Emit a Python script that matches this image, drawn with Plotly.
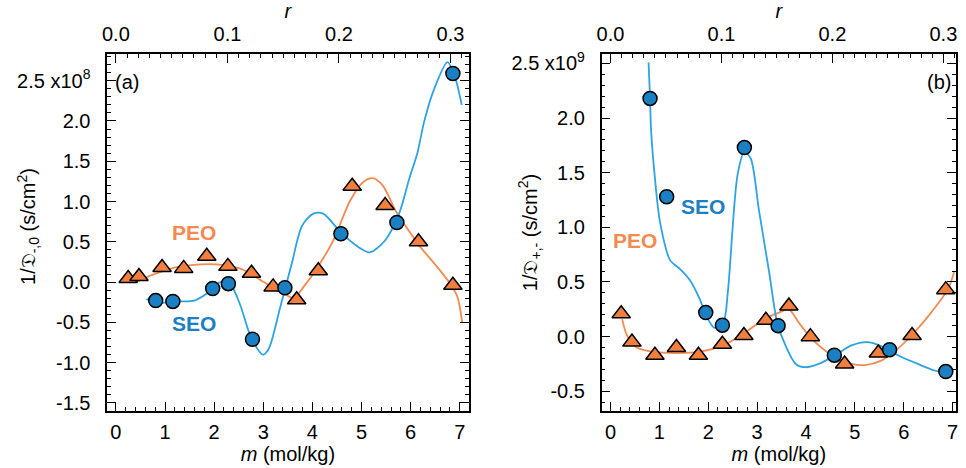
import plotly.graph_objects as go

# ---------------- data ----------------
# Panel (a): 1/D_{-,0}  (units of 1e8 s/cm^2)
a_peo_m = [0.25, 0.47, 0.94, 1.38, 1.85, 2.28, 2.76, 3.20, 3.68, 4.12, 4.81, 5.48, 6.16, 6.86]
a_peo_v = [0.045, 0.07, 0.18, 0.17, 0.32, 0.195, 0.11, -0.06, -0.22, 0.14, 1.19, 0.95, 0.50, -0.04]
a_seo_m = [0.81, 1.16, 1.97, 2.29, 2.78, 3.44, 4.58, 5.72, 6.86]
a_seo_v = [-0.23, -0.24, -0.08, -0.02, -0.71, -0.07, 0.60, 0.74, 2.59]

a_peo_fit_m = [0.25, 0.38, 0.72, 1.19, 1.73, 2.20, 2.60, 3.01, 3.41, 3.62, 3.82, 4.09, 4.42, 4.76,
               5.03, 5.23, 5.43, 5.70, 5.97, 6.18, 6.51, 6.78, 6.95, 7.05]
a_peo_fit_v = [0.03, 0.0, 0.085, 0.18, 0.22, 0.21, 0.15, 0.0, -0.14, -0.2, -0.06, 0.17, 0.51, 1.0,
               1.24, 1.29, 1.2, 0.88, 0.63, 0.45, 0.21, 0.0, -0.18, -0.5]
a_seo_fit_m = [0.62, 0.82, 1.19, 1.60, 1.86, 2.13, 2.34, 2.54, 2.74, 2.99, 3.11, 3.35, 3.58, 3.79,
               4.02, 4.22, 4.56, 4.90, 5.17, 5.47, 5.77, 5.97, 6.14, 6.27, 6.45, 6.75, 6.90, 7.04]
a_seo_fit_v = [-0.21, -0.26, -0.24, -0.23, -0.14, 0.0, -0.04, -0.3, -0.67, -0.9, -0.83, -0.3, 0.23, 0.70,
               0.85, 0.85, 0.63, 0.45, 0.37, 0.51, 0.86, 1.28, 1.61, 1.98, 2.35, 2.73, 2.55, 2.2]

# Panel (b): 1/D_{+,-}  (units of 1e9 s/cm^2)
b_peo_m = [0.22, 0.44, 0.91, 1.35, 1.80, 2.29, 2.73, 3.18, 3.65, 4.09, 4.79, 5.48, 6.17, 6.86]
b_peo_v = [0.21, -0.05, -0.17, -0.10, -0.17, -0.07, 0.01, 0.15, 0.28, 0.0, -0.25, -0.15, 0.01, 0.43]
b_seo_m = [0.81, 1.15, 1.95, 2.29, 2.74, 3.43, 4.58, 5.71, 6.86]
b_seo_v = [2.18, 1.28, 0.22, 0.105, 1.73, 0.10, -0.17, -0.12, -0.32]

b_peo_fit_m = [0.24, 0.34, 0.54, 0.88, 1.35, 1.83, 2.30, 2.70, 3.18, 3.45, 3.65, 3.85, 4.12, 4.53,
               4.93, 5.21, 5.54, 5.88, 6.22, 6.56, 6.90, 7.03]
b_peo_fit_v = [0.16, 0.01, -0.10, -0.14, -0.15, -0.14, -0.08, 0.02, 0.17, 0.22, 0.25, 0.13, -0.02, -0.17,
               -0.25, -0.26, -0.22, -0.11, 0.04, 0.22, 0.43, 0.59]
b_seo_fit_m = [0.78, 0.81, 0.83, 0.91, 1.01, 1.22, 1.42, 1.62, 1.83, 1.96, 2.13, 2.31, 2.40, 2.60,
               2.74, 2.87, 3.04, 3.25, 3.41, 3.58, 3.79, 3.99, 4.26, 4.60, 4.93, 5.27, 5.61, 5.88,
               6.29, 6.63, 6.86]
b_seo_fit_v = [2.51, 2.18, 1.90, 1.45, 1.06, 0.70, 0.62, 0.52, 0.34, 0.19, 0.08, 0.13, 0.40, 1.48,
               1.69, 1.63, 1.15, 0.58, 0.13, -0.08, -0.25, -0.28, -0.25, -0.17, -0.08, -0.05, -0.10, -0.17,
               -0.25, -0.31, -0.33]

a_ytick_vals = [-1.5, -1.0, -0.5, 0.0, 0.5, 1.0, 1.5, 2.0, 2.5]
a_ytick_text = ["-1.5", "-1.0", "-0.5", "0.0", "0.5", "1.0", "1.5", "2.0", "2.5 x10<sup>8</sup>"]
b_ytick_vals = [-0.5, 0.0, 0.5, 1.0, 1.5, 2.0, 2.5]
b_ytick_text = ["-0.5", "0.0", "0.5", "1.0", "1.5", "2.0", "2.5 x10<sup>9</sup>"]

a_ytitle = "1/\U0001D507<sub>-,0</sub> (s/cm<sup>2</sup>)"
b_ytitle = "1/\U0001D507<sub>+,-</sub> (s/cm<sup>2</sup>)"

M_EO = 0.04405  # kg/mol of ethylene oxide: r = m * M_EO

# ---------------- styles ----------------
W, H = 966, 468
FONT = "Liberation Sans, Arial, sans-serif"
BLUE_M = "#1b7fc4"
BLUE_L = "#2ea3e3"
ORANGE_M = "#f27f3d"
ORANGE_L = "#f58a50"
FS = 20

def px_x(p):
    return p / W

def px_y(p):
    return 1 - p / H

a_xr = [-0.176, 7.18]
b_xr = [-0.18, 7.07]
a_yr = [-1.6, 2.83]
b_yr = [-0.68, 2.585]

fig = go.Figure()

def add_panel(xa, ya, fit_peo, fit_seo, pts_peo, pts_seo):
    fig.add_trace(go.Scatter(x=fit_peo[0], y=fit_peo[1], mode="lines", line=dict(color=ORANGE_L, width=1.8, shape="spline", smoothing=0.8),
                             xaxis=xa, yaxis=ya, showlegend=False, hoverinfo="skip"))
    fig.add_trace(go.Scatter(x=fit_seo[0], y=fit_seo[1], mode="lines", line=dict(color=BLUE_L, width=1.8, shape="spline", smoothing=0.8),
                             xaxis=xa, yaxis=ya, showlegend=False, hoverinfo="skip"))
    fig.add_trace(go.Scatter(x=pts_peo[0], y=pts_peo[1], mode="markers",
                             marker=dict(symbol="triangle-up", size=16, color=ORANGE_M, line=dict(color="black", width=1.5)),
                             xaxis=xa, yaxis=ya, showlegend=False, name="PEO"))
    fig.add_trace(go.Scatter(x=pts_seo[0], y=pts_seo[1], mode="markers",
                             marker=dict(symbol="circle", size=14, color=BLUE_M, line=dict(color="black", width=1.5)),
                             xaxis=xa, yaxis=ya, showlegend=False, name="SEO"))

add_panel("x", "y", (a_peo_fit_m, a_peo_fit_v), (a_seo_fit_m, a_seo_fit_v), (a_peo_m, a_peo_v), (a_seo_m, a_seo_v))
add_panel("x2", "y2", (b_peo_fit_m, b_peo_fit_v), (b_seo_fit_m, b_seo_fit_v), (b_peo_m, b_peo_v), (b_seo_m, b_seo_v))

tickfont = dict(family=FONT, size=FS, color="black")
minor_x = dict(ticks="inside", ticklen=4, tickwidth=1, tickcolor="black", dtick=0.2, tick0=0, showgrid=False)
minor_y = dict(ticks="inside", ticklen=4, tickwidth=1, tickcolor="black", dtick=0.1, tick0=0, showgrid=False)
common_x = dict(showgrid=False, zeroline=False, showline=True, linecolor="black", linewidth=1.5,
                ticks="inside", ticklen=9, tickwidth=1.3, tickcolor="black", dtick=1, tick0=0,
                tickfont=tickfont, mirror=True, ticklabelstandoff=2, minor=minor_x)
common_y = dict(showgrid=False, zeroline=False, showline=True, linecolor="black", linewidth=1.5,
                ticks="inside", ticklen=9, tickwidth=1.3, tickcolor="black", tickmode="array",
                tickfont=tickfont, mirror=True, ticklabelstandoff=11, minor=minor_y)
common_yr = dict(showgrid=False, zeroline=False, showline=False, side="right", showticklabels=False,
                 ticks="inside", ticklen=9, tickwidth=1.3, tickcolor="black", dtick=0.5, tick0=0,
                 minor=minor_y)
common_top = dict(showgrid=False, zeroline=False, showline=False, side="top",
                  ticks="inside", ticklen=9, tickwidth=1.3, tickcolor="black", dtick=0.1, tick0=0,
                  tickformat=".1f", tickfont=tickfont, ticklabelstandoff=8,
                  minor=dict(ticks="inside", ticklen=4, tickwidth=1, tickcolor="black", dtick=0.01, tick0=0, showgrid=False))

a_dom_x = [px_x(103), px_x(467)]
b_dom_x = [px_x(601), px_x(958)]
dom_y = [px_y(413), px_y(50)]

xtitle = dict(text="<i>m</i> (mol/kg)", font=dict(family=FONT, size=FS, color="black"), standoff=0)
rtitle = dict(text="<i>r</i>", font=dict(family=FONT, size=FS, color="black"), standoff=3)

fig.update_layout(
    width=W, height=H, margin=dict(l=0, r=0, t=0, b=0),
    paper_bgcolor="white", plot_bgcolor="white",
    font=dict(family=FONT, size=FS, color="black"),
    xaxis=dict(domain=a_dom_x, range=a_xr, anchor="y", title=xtitle, **common_x),
    xaxis2=dict(domain=b_dom_x, range=b_xr, anchor="y2", title=xtitle, **common_x),
    xaxis3=dict(domain=a_dom_x, range=[a_xr[0] * M_EO, a_xr[1] * M_EO], anchor="y", overlaying="x", title=rtitle, **common_top),
    xaxis4=dict(domain=b_dom_x, range=[b_xr[0] * M_EO, b_xr[1] * M_EO], anchor="y2", overlaying="x2", title=rtitle, **common_top),
    yaxis=dict(domain=dom_y, range=a_yr, anchor="x", tickvals=a_ytick_vals, ticktext=a_ytick_text, **common_y),
    yaxis2=dict(domain=dom_y, range=b_yr, anchor="x2", tickvals=b_ytick_vals, ticktext=b_ytick_text, **common_y),
    yaxis3=dict(domain=dom_y, range=a_yr, anchor="x", overlaying="y", **common_yr),
    yaxis4=dict(domain=dom_y, range=b_yr, anchor="x2", overlaying="y2", **common_yr),
)

# invisible traces so the overlay axes render
fig.add_trace(go.Scatter(x=[0], y=[None], xaxis="x3", yaxis="y", showlegend=False, hoverinfo="skip"))
fig.add_trace(go.Scatter(x=[0], y=[None], xaxis="x4", yaxis="y2", showlegend=False, hoverinfo="skip"))
fig.add_trace(go.Scatter(x=[0], y=[None], xaxis="x", yaxis="y3", showlegend=False, hoverinfo="skip"))
fig.add_trace(go.Scatter(x=[0], y=[None], xaxis="x2", yaxis="y4", showlegend=False, hoverinfo="skip"))

ann = []
def label(text, x, y, xref, yref, color, bold=True, xanchor="center", size=21, angle=0):
    ann.append(dict(text=f"<b>{text}</b>" if bold else text, x=x, y=y, xref=xref, yref=yref, showarrow=False,
                    xanchor=xanchor, yanchor="middle", textangle=angle, font=dict(family=FONT, size=size, color=color)))

label("PEO", 1.58, 0.61, "x", "y", ORANGE_L)
label("SEO", 1.58, -0.52, "x", "y", BLUE_M)
label("(a)", -0.05, 2.49, "x", "y", "black", bold=False, xanchor="left", size=FS)
label("SEO", 1.89, 1.19, "x2", "y2", BLUE_M)
label("PEO", 0.51, 0.876, "x2", "y2", ORANGE_L)
label("(b)", 7.0, 2.33, "x2", "y2", "black", bold=False, xanchor="right", size=FS)
# y-axis titles (rotated)
label(a_ytitle, px_x(23), px_y(225), "paper", "paper", "black", bold=False, size=FS, angle=-90)
label(b_ytitle, px_x(528), px_y(232), "paper", "paper", "black", bold=False, size=FS, angle=-90)
fig.update_layout(annotations=ann)

fig.write_html("out.html")
